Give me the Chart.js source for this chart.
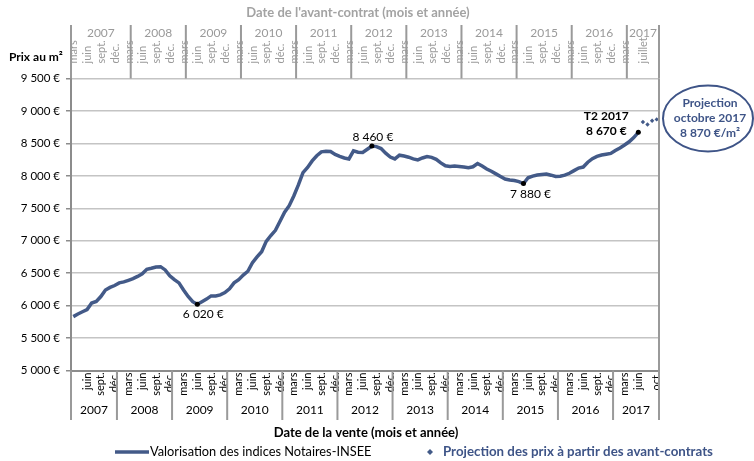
<!DOCTYPE html>
<html lang="fr">
<head>
<meta charset="utf-8">
<title>Prix au m²</title>
<script src="https://cdn.jsdelivr.net/npm/chart.js@4.4.1/dist/chart.umd.min.js"></script>
<style>
    html, body { margin: 0; padding: 0; background: #fff; }
    #wrap { width: 754px; height: 461px; }
</style>
</head>
<body>
<div id="wrap"><canvas id="chart" width="754" height="461"></canvas></div>
<script>
// Sale months: mars 2007 -> oct. 2017 (one category per month)
const firstSaleYear = 2007;
const firstSaleMonth = 2; // mars (0 = janvier)
const monthCount = 128;
const contractLag = 3; // avant-contrat = vente - 3 mois

// Tick labels shown on both month axes
const shownMonthTicks = { 2: 'mars', 5: 'juin', 8: 'sept.', 11: 'déc.' };
const lastSaleTick = 'oct.';
const lastContractTick = 'juillet';

// Valorisation des indices Notaires-INSEE (€/m²), mars 2007 -> juin 2017
const indexValues = [
    5830, 5870, 5905, 5940, 6040, 6065, 6140, 6240, 6280, 6310,                 // 2007
    6350, 6365, 6390, 6415, 6450, 6490, 6560, 6575, 6595, 6600, 6550, 6460,     // 2008
    6400, 6350, 6240, 6140, 6060, 6020, 6060, 6100, 6150, 6150, 6165, 6200,     // 2009
    6260, 6350, 6400, 6470, 6530, 6660, 6750, 6830, 6990, 7080, 7160, 7300,     // 2010
    7440, 7540, 7690, 7860, 8050, 8130, 8230, 8310, 8370, 8380, 8375, 8330,     // 2011
    8300, 8275, 8260, 8385, 8365, 8360, 8410, 8460, 8450, 8420, 8350, 8290,     // 2012
    8260, 8318, 8305, 8287, 8262, 8245, 8275, 8297, 8285, 8255, 8200, 8155,     // 2013
    8145, 8150, 8145, 8135, 8126, 8140, 8190, 8150, 8105, 8070, 8030, 7990,     // 2014
    7950, 7935, 7927, 7910, 7880, 7970, 7995, 8012, 8020, 8028, 8010, 7990,     // 2015
    7995, 8010, 8040, 8080, 8120, 8135, 8210, 8265, 8300, 8320, 8333, 8345,     // 2016
    8390, 8430, 8475, 8525, 8590, 8670                                          // 2017
];

// Projection des prix à partir des avant-contrats, juil. -> oct. 2017
const projectionValues = [8830, 8790, 8850, 8870];

// Highlighted points
const highlightIdx = [27, 65, 98, 123];
const highlightLabels = [['6 020 €'], ['8 460 €'], ['7 880 €'], ['T2 2017', '8 670 €']];

const projectionNote = ['Projection', 'octobre 2017', '8 870 €/m²'];

// Y axis
const yMin = 5000;
const yMax = 9500;
const yStep = 500;

const LINE_COLOR = '#435a88';
const NOTE_COLOR = '#3e5487';
const GRAY = '#9a9a9a';

// Build month categories
const monthOf = (k) => ({ y: firstSaleYear + Math.floor(k / 12), m: ((k % 12) + 12) % 12 });
const saleMonths = [];
const contractMonths = [];
for (let i = 0; i < monthCount; i++) {
    saleMonths.push(monthOf(firstSaleMonth + i));
    contractMonths.push(monthOf(firstSaleMonth + i - contractLag));
}
const saleLabels = saleMonths.map(d => d.m + 1 + '/' + d.y);
const contractLabels = contractMonths.map(d => d.m + 1 + '/' + d.y);

const lineData = saleLabels.map((_, i) => i < indexValues.length ? indexValues[i] : null);
const projData = saleLabels.map((_, i) => {
    const k = i - indexValues.length;
    return k >= 0 && k < projectionValues.length ? projectionValues[k] : null;
});

const formatEuro = (v) => String(v).replace(/\B(?=(\d{3})+(?!\d))/g, ' ') + ' €';

// first slot unlabeled, projection months unlabeled except the last one
const monthTick = (months, lastTick) => (value, index) => {
    if (index === 0) return '';
    if (index === months.length - 1) return lastTick;
    if (index >= indexValues.length) return '';
    return shownMonthTicks[months[index].m] || '';
};

// Year groups for the two-level axes
function yearGroups(months) {
    const groups = [];
    months.forEach((d, i) => {
        const g = groups[groups.length - 1];
        if (g && g.year === d.y) g.end = i;
        else groups.push({ year: d.y, start: i, end: i });
    });
    if (groups.length > 1 && groups[0].start === groups[0].end) {
        groups[1].start = groups[0].start;
        groups.shift();
    }
    return groups;
}

const decorPlugin = {
    id: 'decor',
    afterDraw(chart) {
        const { ctx, chartArea: a, scales } = chart;
        const x = scales.x;
        const y = scales.y;
        const half = (x.getPixelForValue(1) - x.getPixelForValue(0)) / 2;
        const edge = (i) => x.getPixelForValue(i) - half;

        ctx.save();
        ctx.strokeStyle = GRAY;
        ctx.lineWidth = 2;

        // plot right border
        ctx.beginPath();
        ctx.moveTo(a.right, a.top);
        ctx.lineTo(a.right, a.bottom);
        ctx.stroke();

        // year groups, top (avant-contrat) and bottom (vente)
        const drawGroups = (months, y0, y1, yText, color) => {
            const groups = yearGroups(months);
            ctx.beginPath();
            groups.forEach(g => {
                ctx.moveTo(edge(g.start), y0);
                ctx.lineTo(edge(g.start), y1);
            });
            const last = groups[groups.length - 1];
            ctx.moveTo(edge(last.end + 1), y0);
            ctx.lineTo(edge(last.end + 1), y1);
            ctx.stroke();
            ctx.fillStyle = color;
            ctx.font = '12px Lato';
            ctx.textAlign = 'center';
            ctx.textBaseline = 'middle';
            groups.forEach(g => {
                ctx.fillText(String(g.year), (edge(g.start) + edge(g.end + 1)) / 2, yText);
            });
        };
        drawGroups(contractMonths, 25, a.top, 33, '#9a9a9a');
        drawGroups(saleMonths, a.bottom, 420, 410, '#000');

        // titles
        ctx.textAlign = 'center';
        ctx.textBaseline = 'middle';
        ctx.font = 'bold 13px Lato';
        ctx.fillStyle = '#a3a3a3';
        ctx.fillText("Date de l'avant-contrat (mois et année)", 358, 13);
        ctx.fillStyle = '#000';
        ctx.fillText('Date de la vente (mois et année)', 366, 433);
        ctx.textAlign = 'left';
        ctx.font = 'bold 12px Lato';
        ctx.fillText('Prix au m²', 9, 57);

        // point labels
        const meta = chart.getDatasetMeta(0);
        const offsets = [[6, 10], [1, -9], [7, 11], [-32, -16]];
        highlightIdx.forEach((idx, n) => {
            const p = meta.data[idx];
            const lines = highlightLabels[n];
            ctx.textAlign = 'center';
            ctx.fillStyle = '#000';
            ctx.font = lines.length > 1 ? 'bold 12px Lato' : '12px Lato';
            lines.forEach((t, j) => {
                ctx.fillText(t, p.x + offsets[n][0], p.y + offsets[n][1] + j * 15);
            });
        });

        // projection note
        const cx = a.right + 49;
        const cy = y.getPixelForValue(projectionValues[projectionValues.length - 1]) - 1;
        ctx.strokeStyle = NOTE_COLOR;
        ctx.lineWidth = 2;
        ctx.beginPath();
        ctx.ellipse(cx, cy, 45, 33, 0, 0, Math.PI * 2);
        ctx.stroke();
        ctx.fillStyle = NOTE_COLOR;
        ctx.font = 'bold 12px Lato';
        ctx.textAlign = 'center';
        projectionNote.forEach((t, j) => ctx.fillText(t, cx + 2, cy - 15 + j * 15));

        // legend
        const ly = 452;
        ctx.strokeStyle = LINE_COLOR;
        ctx.lineWidth = 3.5;
        ctx.beginPath();
        ctx.moveTo(115, ly);
        ctx.lineTo(149, ly);
        ctx.stroke();
        ctx.fillStyle = '#000';
        ctx.font = '12.8px Lato';
        ctx.textAlign = 'left';
        ctx.fillText('Valorisation des indices Notaires-INSEE', 150, ly);
        ctx.fillStyle = LINE_COLOR;
        ctx.beginPath();
        ctx.moveTo(430, ly - 3);
        ctx.lineTo(433, ly);
        ctx.lineTo(430, ly + 3);
        ctx.lineTo(427, ly);
        ctx.closePath();
        ctx.fill();
        ctx.fillStyle = NOTE_COLOR;
        ctx.font = 'bold 13.3px Lato';
        ctx.fillText('Projection des prix à partir des avant-contrats', 443, ly);
        ctx.restore();
    }
};

Chart.defaults.font.family = 'Lato';
Chart.defaults.color = '#000';

new Chart(document.getElementById('chart'), {
    type: 'line',
    data: {
        labels: saleLabels,
        datasets: [
            {
                label: 'Valorisation des indices Notaires-INSEE',
                data: lineData,
                borderColor: LINE_COLOR,
                borderWidth: 3.5,
                tension: 0,
                pointRadius: (c) => highlightIdx.includes(c.dataIndex) ? 2.5 : 0,
                pointBackgroundColor: '#000',
                pointBorderWidth: 0,
                xAxisID: 'x',
                yAxisID: 'y'
            },
            {
                label: 'Projection des prix à partir des avant-contrats',
                data: projData,
                showLine: false,
                pointStyle: 'rectRot',
                pointRadius: 2.2,
                pointBackgroundColor: LINE_COLOR,
                pointBorderColor: LINE_COLOR,
                pointBorderWidth: 0,
                xAxisID: 'x',
                yAxisID: 'y'
            }
        ]
    },
    options: {
        responsive: false,
        animation: false,
        layout: { padding: { left: 0, right: 95, top: 0, bottom: 40.5 } },
        plugins: { legend: { display: false }, tooltip: { enabled: false } },
        scales: {
            x: {
                type: 'category',
                position: 'bottom',
                offset: true,
                grid: { display: false, drawTicks: false },
                border: { display: true, color: '#8c8c8c', width: 2 },
                ticks: {
                    autoSkip: false, minRotation: 90, maxRotation: 90, padding: 2,
                    font: { size: 11 }, color: '#000',
                    callback: monthTick(saleMonths, lastSaleTick)
                },
                afterFit: (s) => { s.height = 50; }
            },
            x2: {
                type: 'category',
                position: 'top',
                labels: contractLabels,
                offset: true,
                grid: { display: false, drawTicks: false },
                border: { display: false },
                ticks: {
                    autoSkip: false, minRotation: 90, maxRotation: 90, padding: 15,
                    font: { size: 11 }, color: '#9a9a9a',
                    callback: monthTick(contractMonths, lastContractTick)
                },
                afterFit: (s) => { s.height = 78.5; }
            },
            y: {
                min: yMin,
                max: yMax,
                grid: { color: '#c4c4c4', lineWidth: 1.5, tickLength: 5, tickColor: '#8c8c8c' },
                border: { display: true, color: '#8c8c8c', width: 2 },
                ticks: {
                    stepSize: yStep, padding: 6,
                    font: { size: 11.5 }, color: '#000',
                    callback: (v) => formatEuro(v)
                },
                afterFit: (s) => { s.width = 71; }
            }
        }
    },
    plugins: [decorPlugin]
});
</script>
</body>
</html>
